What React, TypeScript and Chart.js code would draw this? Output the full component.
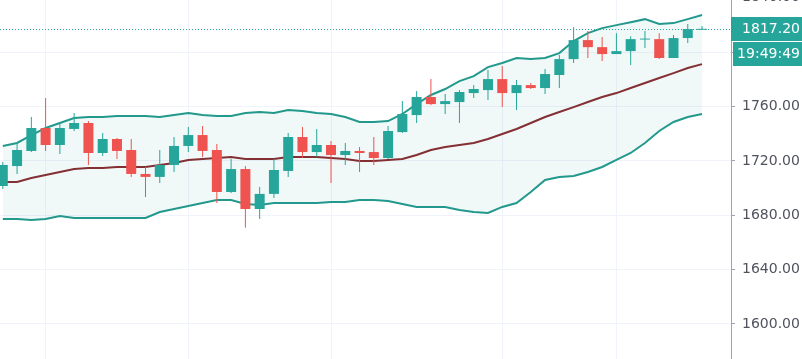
import React, { useEffect, useRef } from 'react';
import { Chart, registerables } from 'chart.js';

Chart.register(...registerables);

// ---- data ----
const opens = [
  1701.5, 1716.2, 1727.3, 1744.2, 1731.7, 1743.5, 1747.9, 1725.8, 1736.1, 1728.0,
  1710.4, 1708.2, 1717.0, 1731.0, 1739.0, 1728.0, 1697.1, 1714.0, 1684.6, 1695.7,
  1712.6, 1737.6, 1726.5, 1731.7, 1724.3, 1727.3, 1726.5, 1722.1, 1741.2, 1753.7,
  1767.0, 1761.8, 1763.3, 1769.9, 1772.1, 1780.2, 1769.9, 1775.8, 1773.6, 1783.2,
  1794.9, 1808.9, 1803.7, 1798.6, 1800.8, 1809.3, 1809.6, 1795.7, 1810.4, 1816.5,
];
const highs = [
  1719.2, 1733.2, 1752.3, 1766.2, 1747.9, 1755.2, 1749.3, 1740.5, 1736.8, 1736.1,
  1715.5, 1728.0, 1737.6, 1744.9, 1745.7, 1732.4, 1721.4, 1716.2, 1700.8, 1721.4,
  1740.5, 1744.9, 1743.5, 1734.6, 1733.2, 1730.2, 1737.6, 1745.7, 1764.0, 1771.4,
  1780.2, 1769.2, 1772.1, 1775.8, 1786.8, 1789.8, 1779.5, 1777.3, 1787.6, 1797.9,
  1818.4, 1815.5, 1811.1, 1814.0, 1811.8, 1815.5, 1814.0, 1812.6, 1820.7, 1819.2,
];
const lows = [
  1699.3, 1710.4, 1726.5, 1727.3, 1725.1, 1742.0, 1717.0, 1723.6, 1721.4, 1708.2,
  1693.5, 1703.7, 1711.8, 1726.5, 1722.9, 1689.0, 1696.4, 1670.7, 1677.3, 1692.7,
  1708.2, 1722.1, 1722.9, 1703.7, 1717.0, 1711.8, 1717.0, 1721.4, 1740.5, 1747.9,
  1761.1, 1754.5, 1747.9, 1766.2, 1764.8, 1759.6, 1757.4, 1772.9, 1769.2, 1773.6,
  1792.0, 1795.7, 1793.5, 1798.6, 1790.5, 1803.0, 1794.9, 1795.7, 1806.7, 1816.3,
];
const closes = [
  1717.0, 1728.0, 1744.2, 1731.7, 1744.2, 1747.9, 1725.8, 1736.1, 1727.3, 1710.4,
  1708.2, 1717.0, 1731.0, 1739.0, 1727.3, 1697.1, 1714.0, 1684.6, 1695.7, 1713.3,
  1737.6, 1726.5, 1731.7, 1724.3, 1727.3, 1725.8, 1722.1, 1742.0, 1754.5, 1767.0,
  1761.8, 1764.0, 1770.7, 1772.9, 1780.2, 1769.9, 1775.8, 1773.6, 1783.9, 1794.9,
  1808.9, 1803.7, 1798.6, 1800.8, 1809.6, 1810.0, 1795.7, 1810.4, 1817.0, 1817.2,
];
const bbUpper = [
  1731.0, 1733.2, 1739.0, 1744.2, 1747.9, 1751.5, 1752.3, 1752.3, 1753.0, 1753.0,
  1753.0, 1752.3, 1753.7, 1755.2, 1753.7, 1753.0, 1753.0, 1755.2, 1756.0, 1755.2,
  1757.4, 1756.7, 1755.2, 1754.5, 1752.3, 1748.6, 1748.6, 1749.3, 1754.5, 1761.8,
  1768.5, 1772.9, 1778.7, 1782.4, 1789.0, 1792.0, 1795.7, 1794.9, 1795.7, 1799.3,
  1808.2, 1814.0, 1817.7, 1819.9, 1822.1, 1824.3, 1820.7, 1821.4, 1824.3, 1827.3,
];
const bbBasis = [
  1704.5, 1704.5, 1707.4, 1709.6, 1711.8, 1714.0, 1714.8, 1714.8, 1715.5, 1715.5,
  1715.5, 1717.0, 1718.5, 1720.7, 1721.4, 1722.1, 1722.9, 1721.4, 1721.4, 1721.4,
  1722.9, 1722.9, 1722.9, 1722.1, 1721.4, 1719.9, 1719.9, 1720.7, 1721.4, 1724.3,
  1728.0, 1730.2, 1731.7, 1733.2, 1736.1, 1739.8, 1743.5, 1747.9, 1752.3, 1756.0,
  1759.6, 1763.3, 1767.0, 1769.9, 1773.6, 1777.3, 1781.0, 1784.6, 1788.3, 1791.2,
];
const bbLower = [
  1677.3, 1677.3, 1676.5, 1677.3, 1679.5, 1678.0, 1678.0, 1678.0, 1678.0, 1678.0,
  1678.0, 1682.4, 1684.6, 1686.8, 1689.0, 1691.2, 1691.2, 1688.3, 1687.6, 1689.0,
  1689.0, 1689.0, 1689.0, 1689.8, 1689.8, 1691.2, 1691.2, 1690.5, 1688.3, 1686.1,
  1686.1, 1686.1, 1683.9, 1682.4, 1681.7, 1686.1, 1689.0, 1697.1, 1706.0, 1708.2,
  1708.9, 1711.8, 1715.5, 1720.7, 1725.8, 1733.2, 1742.0, 1748.6, 1752.3, 1754.5,
];
const yTicks = [1600, 1640, 1680, 1720, 1760, 1800, 1840];
const xGridIndices = [3, 13, 23, 35, 43];
const lastPrice = 1817.2;
const countdown = '19:49:49';

// ---- styles ----
const UP = '#26a69a';
const DOWN = '#ef5350';
const BAND = '#22998c';
const BASIS = '#832f33';
const BAND_FILL = 'rgba(60,150,160,0.07)';
const GRID = '#f0f3fa';
const AXIS = '#a0a3ab';
const FONT = 'DejaVu Sans';

const overlay = {
  id: 'overlay',
  afterDraw(chart: any) {
    const { ctx, chartArea, scales, width } = chart;
    const y = scales.y.getPixelForValue(lastPrice);
    ctx.save();
    // dotted price line
    ctx.strokeStyle = UP;
    ctx.lineWidth = 1;
    ctx.setLineDash([1, 2]);
    ctx.beginPath();
    const yy = Math.round(y) + 0.5;
    ctx.moveTo(chartArea.left, yy);
    ctx.lineTo(chartArea.right, yy);
    ctx.stroke();
    ctx.setLineDash([]);
    // price box
    ctx.fillStyle = UP;
    ctx.fillRect(chartArea.right, Math.round(y) - 12, width - chartArea.right, 24);
    // countdown box
    ctx.fillRect(chartArea.right + 2, Math.round(y) + 13, width - chartArea.right - 2, 24);
    ctx.fillStyle = '#ffffff';
    ctx.font = `14px "${FONT}"`;
    ctx.textAlign = 'right';
    ctx.textBaseline = 'middle';
    ctx.fillText(lastPrice.toFixed(2), width - 2, Math.round(y) + 0.5);
    ctx.fillText(countdown, width - 2, Math.round(y) + 25.5);
    ctx.restore();
  },
};

export default function App() {
  const ref = useRef<HTMLCanvasElement | null>(null);

  useEffect(() => {
    if (!ref.current) return;
    const idx = opens.map((_, i) => i);
    const colors = idx.map((i) => (closes[i] >= opens[i] ? UP : DOWN));
    const chart = new Chart(ref.current, {
      type: 'bar',
      data: {
        datasets: [
          {
            type: 'line',
            data: idx.map((i) => ({ x: i, y: bbUpper[i] })),
            borderColor: BAND,
            borderWidth: 2,
            pointRadius: 0,
            tension: 0,
            fill: '+1',
            backgroundColor: BAND_FILL,
            order: 5,
          } as any,
          {
            type: 'line',
            data: idx.map((i) => ({ x: i, y: bbLower[i] })),
            borderColor: BAND,
            borderWidth: 2,
            pointRadius: 0,
            tension: 0,
            fill: false,
            order: 4,
          } as any,
          {
            type: 'line',
            data: idx.map((i) => ({ x: i, y: bbBasis[i] })),
            borderColor: BASIS,
            borderWidth: 2,
            pointRadius: 0,
            tension: 0,
            fill: false,
            order: 3,
          } as any,
          {
            type: 'bar',
            data: idx.map((i) => ({ x: i, y: [lows[i], highs[i]] })),
            backgroundColor: colors,
            borderWidth: 0,
            barThickness: 1,
            inflateAmount: 0,
            grouped: false,
            order: 2,
          } as any,
          {
            type: 'bar',
            data: idx.map((i) => ({ x: i, y: [opens[i], closes[i]] })),
            backgroundColor: colors,
            borderWidth: 0,
            barThickness: 10,
            inflateAmount: 0,
            grouped: false,
            order: 1,
          } as any,
        ],
      },
      options: {
        responsive: false,
        animation: false,
        events: [],
        layout: { padding: 0, autoPadding: false } as any,
        plugins: {
          legend: { display: false },
          tooltip: { enabled: false },
        },
        scales: {
          x: {
            type: 'linear',
            min: -0.196,
            max: 51.03,
            offset: false,
            grid: { color: GRID, offset: false, drawTicks: false },
            border: { display: false },
            ticks: { display: false },
            afterBuildTicks: (s: any) => {
              s.ticks = xGridIndices.map((v) => ({ value: v }));
            },
            afterFit: (s: any) => {
              s.height = 0;
              s.paddingLeft = 0;
              s.paddingRight = 0;
            },
          } as any,
          y: {
            type: 'linear',
            position: 'right',
            min: 1574.2,
            max: 1838.4,
            grid: { color: GRID, tickColor: AXIS, tickLength: 4, drawTicks: true },
            border: { display: true, color: AXIS, width: 1 },
            ticks: {
              padding: 7,
              color: '#50535e',
              font: { family: FONT, size: 14 },
              autoSkip: false,
              callback: (v: any) => Number(v).toFixed(2),
            },
            afterBuildTicks: (s: any) => {
              s.ticks = yTicks.map((v) => ({ value: v }));
            },
            afterFit: (s: any) => {
              s.width = 71;
              s.paddingTop = 0;
              s.paddingBottom = 0;
            },
          } as any,
        },
      },
      plugins: [overlay],
    });
    return () => chart.destroy();
  }, []);

  return (
    <div style={{ position: 'fixed', left: 0, top: 0, width: 802, height: 359, background: '#fff' }}>
      <canvas ref={ref} width={802} height={359} style={{ display: 'block' }} />
    </div>
  );
}
